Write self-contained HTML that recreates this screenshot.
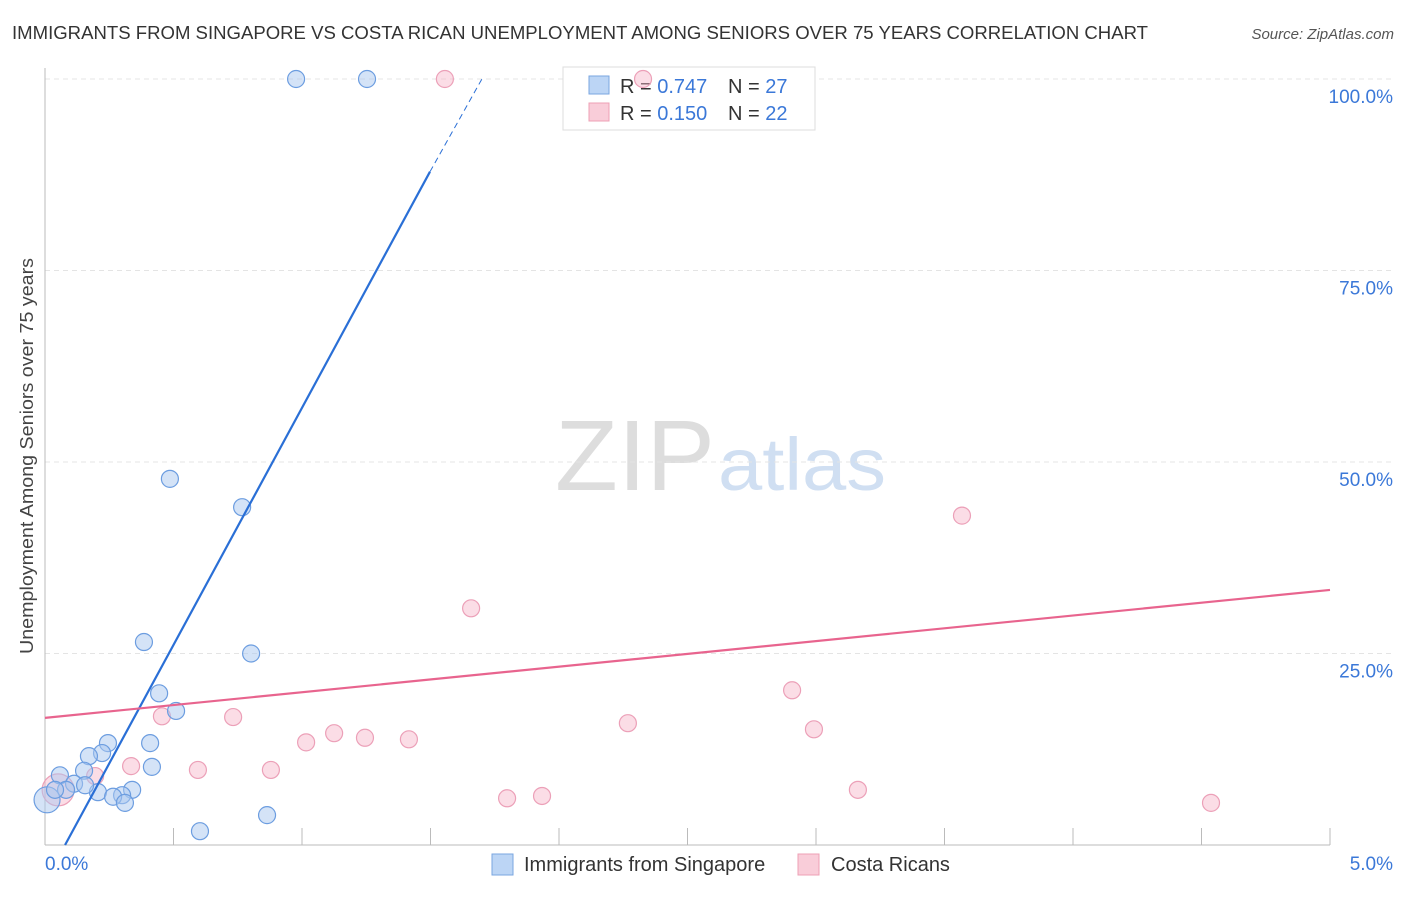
<!DOCTYPE html>
<html><head><meta charset="utf-8"><style>
body{margin:0;background:#fff;font-family:"Liberation Sans",sans-serif}
svg text{font-family:"Liberation Sans",sans-serif}
</style></head><body>
<svg id="chart" width="1406" height="892" xmlns="http://www.w3.org/2000/svg">
<text x="12" y="39" font-size="18" fill="#333" textLength="1136" lengthAdjust="spacingAndGlyphs">IMMIGRANTS FROM SINGAPORE VS COSTA RICAN UNEMPLOYMENT AMONG SENIORS OVER 75 YEARS CORRELATION CHART</text>
<text x="1394" y="39" font-size="15" fill="#555" text-anchor="end" font-style="italic">Source: ZipAtlas.com</text>
<text transform="translate(33,456) rotate(-90)" font-size="18" fill="#444" text-anchor="middle" textLength="396" lengthAdjust="spacingAndGlyphs">Unemployment Among Seniors over 75 years</text>
<g>
<text x="555" y="490" font-size="100" fill="#ddd" font-family="Liberation Serif" textLength="160" lengthAdjust="spacingAndGlyphs">ZIP</text>
<text x="718" y="490" font-size="74" fill="#d0dff2" textLength="168" lengthAdjust="spacingAndGlyphs">atlas</text>
</g>
<g id="grid"></g><g id="axes"></g>
<g>
<rect x="563" y="67" width="252" height="63" fill="#fff" stroke="#ddd"/>
<rect x="589" y="76" width="20" height="18" fill="#bcd5f5" stroke="#7aa6e0"/>
<text x="620" y="93" font-size="20" fill="#333">R = <tspan fill="#3b78d8">0.747</tspan></text>
<text x="728" y="93" font-size="20" fill="#333">N = <tspan fill="#3b78d8">27</tspan></text>
<rect x="589" y="103" width="20" height="18" fill="#f9cdd9" stroke="#eea0b5"/>
<text x="620" y="120" font-size="20" fill="#333">R = <tspan fill="#3b78d8">0.150</tspan></text>
<text x="728" y="120" font-size="20" fill="#333">N = <tspan fill="#3b78d8">22</tspan></text>
</g>
<g id="marks"></g>
<g>
<rect x="492" y="854" width="21" height="21" fill="#bcd5f5" stroke="#7aa6e0"/>
<text x="524" y="871" font-size="20" fill="#333">Immigrants from Singapore</text>
<rect x="798" y="854" width="21" height="21" fill="#f9cdd9" stroke="#eea0b5"/>
<text x="831" y="871" font-size="20" fill="#333">Costa Ricans</text>
</g>
</svg>
<script>
const blueX=[0.977,1.253,0.486,0.767,0.385,0.802,0.444,0.510,0.409,0.245,0.222,0.171,0.416,0.152,0.058,0.113,0.082,0.206,0.339,0.300,0.265,0.311,0.603,0.864,0.008,0.039,0.156];
const blueY=[100,100,47.8,44.1,26.5,25.0,19.8,17.5,13.3,13.3,12.0,11.6,10.2,9.7,9.1,8.0,7.2,6.9,7.2,6.5,6.3,5.5,1.8,3.9,5.9,7.2,7.8];
const pinkX=[1.556,2.327,3.568,1.658,2.907,2.268,2.992,0.455,0.732,1.016,1.125,1.245,1.416,0.335,0.595,0.879,1.798,1.934,3.163,4.537,0.195,0.051];
const pinkY=[100,100,43.0,30.9,20.2,15.9,15.1,16.8,16.7,13.4,14.6,14.0,13.8,10.3,9.8,9.8,6.1,6.4,7.2,5.5,9.0,7.2];
const yTicks=[25,50,75,100];
const yTickLabels=["25.0%","50.0%","75.0%","100.0%"];
const xTickLabels=["0.0%","5.0%"];
const blueTrend=[0.078,0,1.498,87.9,1.7,100];
const pinkTrend=[0,16.6,5,33.3];
const NS="http://www.w3.org/2000/svg";
const sx=v=>45+v/5*1285, sy=v=>845-v/100*766;
function mk(t,a,p){const e=document.createElementNS(NS,t);for(const k in a)e.setAttribute(k,a[k]);document.getElementById(p).appendChild(e);return e;}
yTicks.forEach((t,i)=>{
 const g=mk('line',{x1:45,x2:1392,y1:sy(t),y2:sy(t),stroke:'#e4e4e4','stroke-dasharray':'5,4'},'grid');
 
 
 const l=mk('text',{x:1393,y:sy(t)+24,'font-size':19,fill:'#3b78d8','text-anchor':'end'},'axes');
 l.textContent=yTickLabels[i];
 
 
});
mk('line',{x1:45,x2:45,y1:68,y2:845,stroke:'#bbb'},'axes');
mk('line',{x1:45,x2:1330,y1:845,y2:845,stroke:'#bbb'},'axes');
for(let i=0;i<=10;i++){mk('line',{x1:sx(i*0.5),x2:sx(i*0.5),y1:828,y2:845,stroke:'#bbb'},'axes');}
const xl0=mk('text',{x:45,y:870,'font-size':19,fill:'#3b78d8'},'axes');xl0.textContent=xTickLabels[0];


const xl1=mk('text',{x:1393,y:870,'font-size':19,fill:'#3b78d8','text-anchor':'end'},'axes');xl1.textContent=xTickLabels[1];


pinkX.forEach((x,i)=>{const c=mk('circle',{cx:sx(x),cy:sy(pinkY[i]),r:i==21?16:8.5,fill:'rgba(246,180,200,0.45)',stroke:'#eca0b8','stroke-width':1.2},'marks');
 
 });
blueX.forEach((x,i)=>{const c=mk('circle',{cx:sx(x),cy:sy(blueY[i]),r:i==24?13:8.5,fill:'rgba(170,200,240,0.5)',stroke:'#6c9de0','stroke-width':1.2},'marks');
 
 });
const bl=mk('line',{x1:sx(blueTrend[0]),y1:sy(blueTrend[1]),x2:sx(blueTrend[2]),y2:sy(blueTrend[3]),stroke:'#2a6fd6','stroke-width':2.2},'marks');


const bd=mk('line',{x1:sx(blueTrend[2]),y1:sy(blueTrend[3]),x2:sx(blueTrend[4]),y2:sy(blueTrend[5]),stroke:'#2a6fd6','stroke-width':1,'stroke-dasharray':'6,4'},'marks');


const pl=mk('line',{x1:sx(pinkTrend[0]),y1:sy(pinkTrend[1]),x2:sx(pinkTrend[2]),y2:sy(pinkTrend[3]),stroke:'#e8648e','stroke-width':2.2},'marks');


</script>
</body></html>
